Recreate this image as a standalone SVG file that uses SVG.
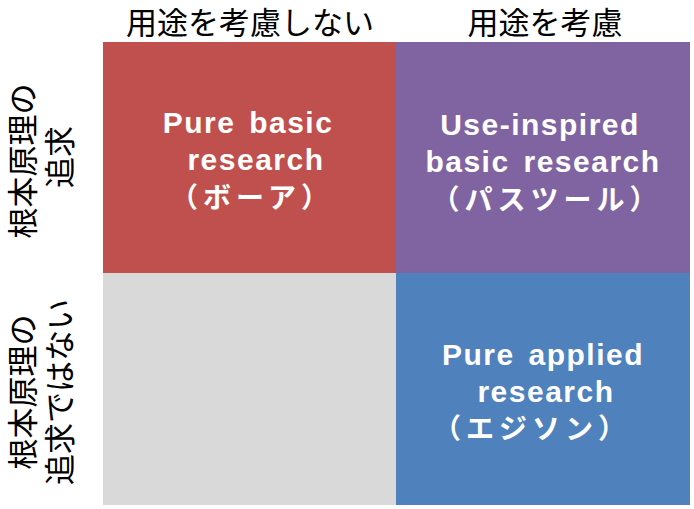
<svg xmlns="http://www.w3.org/2000/svg" width="694" height="509" viewBox="0 0 694 509">
<style>
.hdr{font-family:"Liberation Sans","Noto Sans CJK JP",sans-serif;font-size:31px;fill:#000;text-anchor:middle}
.q{font-family:"Liberation Sans","Noto Sans CJK JP",sans-serif;font-size:30px;font-weight:bold;fill:#fff;text-anchor:middle;letter-spacing:1.5px;word-spacing:4px}
.qj{font-family:"Noto Sans CJK JP",sans-serif;font-size:28px;font-weight:bold;fill:#fff;text-anchor:middle;letter-spacing:5px}
</style>
<rect width="694" height="509" fill="#fff"/>
<g id="headers">
<text class="hdr" x="250" y="34">用途を考慮しない</text>
<text class="hdr" x="545" y="34">用途を考慮</text>
<text class="hdr" transform="translate(34,161) rotate(-90)">根本原理の</text>
<text class="hdr" transform="translate(71,157) rotate(-90)">追求</text>
<text class="hdr" transform="translate(34,392) rotate(-90)">根本原理の</text>
<text class="hdr" transform="translate(71,392) rotate(-90)">追求ではない</text>
</g>
<g id="q-pure-basic">
<rect x="103" y="42" width="293" height="231" fill="#C0504D"/>
<text class="q" x="248" y="133">Pure basic</text>
<text class="q" x="256" y="170">research</text>
<text class="qj" x="252" y="208">（ボーア）</text>
</g>
<g id="q-use-inspired">
<rect x="396" y="42" width="294" height="231" fill="#8064A2"/>
<text class="q" x="540" y="135">Use-inspired</text>
<text class="q" x="543" y="172">basic research</text>
<text class="qj" x="547" y="210">（パスツール）</text>
</g>
<g id="q-empty">
<rect x="103" y="273" width="293" height="232" fill="#D9D9D9"/>
</g>
<g id="q-pure-applied">
<rect x="396" y="273" width="294" height="232" fill="#4F81BD"/>
<text class="q" x="543" y="365">Pure applied</text>
<text class="q" x="546" y="402">research</text>
<text class="qj" x="532" y="439">（エジソン）</text>
</g>
<g id="connectors"/>
</svg>
